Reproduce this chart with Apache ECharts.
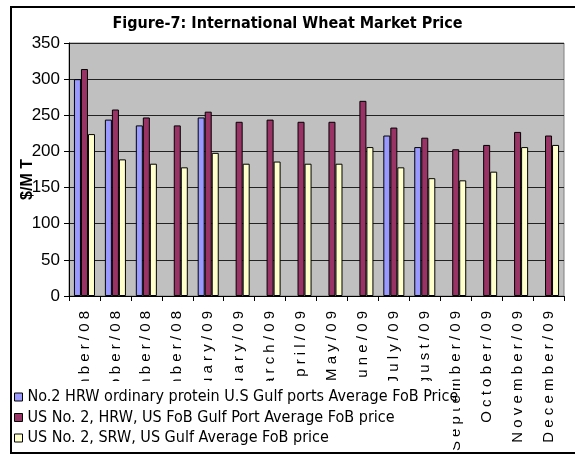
<!DOCTYPE html>
<html>
<head>
<meta charset="utf-8">
<script src="https://cdn.jsdelivr.net/npm/echarts@6/dist/echarts.min.js"></script>
<style>
  html, body { margin: 0; padding: 0; background: #fff; }
  #chart { width: 575px; height: 456px; }
</style>
</head>
<body>
<div id="chart"></div>
<script>
    // values, $/MT
    months = ['September/08', 'October/08', 'November/08', 'December/08', 'January/09', 'February/09',
        'March/09', 'April/09', 'May/09', 'June/09', 'July/09', 'August/09',
        'September/09', 'October/09', 'November/09', 'December/09'];
    hrw_ordinary = [300, 244, 236, null, 247, null, null, null, null, null, 222, 206, null, null, null, null];
    hrw_gulf = [314, 258, 247, 236, 255, 241, 244, 241, 241, 270, 233, 219, 203, 209, 227, 222];
    srw_gulf = [224, 189, 183, 178, 198, 183, 186, 183, 183, 206, 178, 163, 160, 172, 206, 209];
    series_names = [
        'No.2 HRW ordinary protein U.S Gulf ports Average FoB Price',
        'US No. 2, HRW, US FoB Gulf Port Average FoB price',
        'US No. 2, SRW, US Gulf Average FoB price'
    ];
    y_ticks = { min: 0, max: 350, step: 50 };

    narrow = '"Liberation Sans Narrow", "DejaVu Sans Condensed", sans-serif';
    arial = '"Liberation Sans", Arial, sans-serif';
    colors = ['#9999FF', '#993366', '#FFFFCC'];

    function barSeries(i, data) {
        return {
            name: series_names[i],
            type: 'bar',
            data: data,
            barGap: '0%',
            barCategoryGap: '32%',
            itemStyle: { color: colors[i], borderColor: '#000', borderWidth: 1 }
        };
    }

    let plot = echarts.init(document.getElementById('chart'));
    plot.setOption({
        animation: false,
        backgroundColor: '#fff',
        title: {
            text: 'Figure-7: International Wheat Market Price',
            left: 'center',
            top: 16,
            padding: 0,
            textStyle: { fontFamily: narrow, fontSize: 16, fontWeight: 'bold', color: '#000' }
        },
        graphic: [
            {
                type: 'rect', z: 0,
                shape: { x: 11, y: 7, width: 600, height: 446 },
                style: { fill: null, stroke: '#000', lineWidth: 2 }
            },
            {
                type: 'rect', z: 10,
                shape: { x: 12, y: 381, width: 441, height: 71 },
                style: { fill: '#fff' }
            }
        ],
        legend: {
            z: 11,
            orient: 'vertical',
            left: 14,
            top: 389,
            padding: 0,
            itemGap: 4.5,
            itemWidth: 8,
            itemHeight: 8,
            icon: 'rect',
            itemStyle: { borderColor: '#000', borderWidth: 1 },
            textStyle: { fontFamily: narrow, fontSize: 16, lineHeight: 14, color: '#000' },
            data: series_names
        },
        grid: {
            left: 69, right: 11, top: 43, bottom: 160,
            outerBoundsMode: 'none',
            containLabel: false,
            show: true,
            backgroundColor: '#C0C0C0',
            borderColor: '#808080',
            borderWidth: 1
        },
        xAxis: {
            type: 'category',
            data: months,
            axisLine: { lineStyle: { color: '#000', width: 1 } },
            axisTick: { show: true, length: 5, lineStyle: { color: '#000' } },
            axisLabel: {
                rotate: 90,
                margin: 15,
                interval: 0,
                fontFamily: arial,
                fontSize: 15,
                color: '#000',
                formatter: (v) => v.split('').join(' ')
            }
        },
        yAxis: {
            type: 'value',
            min: y_ticks.min,
            max: y_ticks.max,
            interval: y_ticks.step,
            name: '$/M T',
            nameLocation: 'middle',
            nameGap: 33,
            nameMoveOverlap: false,
            nameTextStyle: {
                fontFamily: arial, fontSize: 16, fontWeight: 'bold', color: '#000',
                padding: [0, 20, 0, 0]
            },
            axisLine: { show: true, lineStyle: { color: '#000', width: 1 } },
            axisTick: { show: true, length: 5, lineStyle: { color: '#000' } },
            axisLabel: {
                margin: 9,
                fontFamily: arial,
                fontSize: 17,
                color: '#000'
            },
            splitLine: { lineStyle: { color: '#222', width: 1 } }
        },
        series: [
            barSeries(0, hrw_ordinary),
            barSeries(1, hrw_gulf),
            barSeries(2, srw_gulf)
        ]
    });
</script>
</body>
</html>
